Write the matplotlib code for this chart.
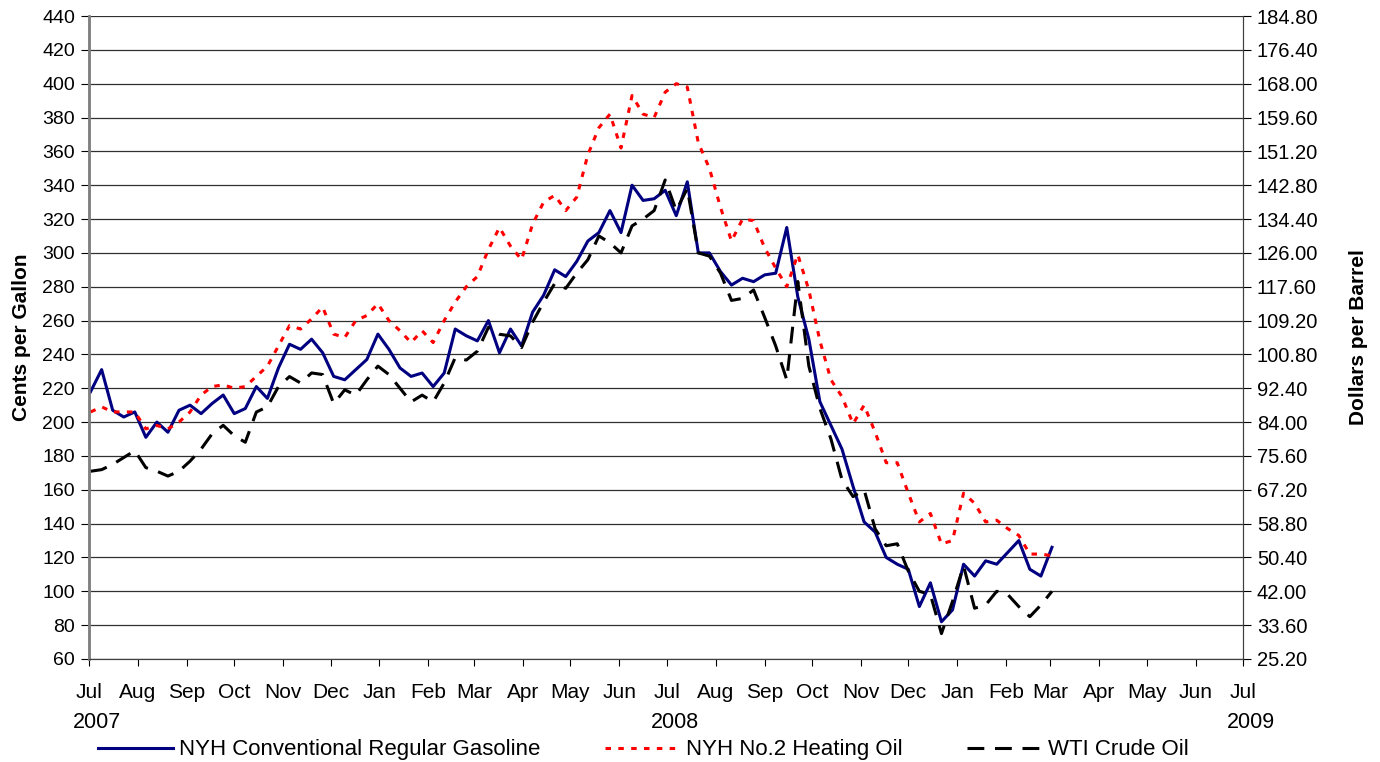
import matplotlib
matplotlib.use('Agg')
import matplotlib.pyplot as plt
import matplotlib.dates as mdates
import numpy as np
import pandas as pd

plt.rcParams['font.family'] = ['Liberation Sans', 'DejaVu Sans']
plt.rcParams['font.size'] = 14

## -------- DATA (weekly) -------- ##

dates = pd.date_range('2007-07-02', periods=88, freq='7D')

# NYH conventional regular gasoline, cents per gallon
gasoline = [218, 231, 207, 203, 206, 191, 200, 194, 207, 210, 205, 211, 216, 205, 208, 221, 214, 232,
            246, 243, 249, 241, 227, 225, 231, 237, 252, 243, 232, 227, 229, 221, 229, 255, 251,
            248, 260, 241, 255, 245, 265, 275, 290, 286, 295, 307, 312, 325, 312, 340, 331, 332, 337,
            322, 342, 300, 300, 289, 281, 285, 283, 287, 288, 315, 274, 249, 212, 198, 184, 162,
            141, 135, 120, 116, 113, 91, 105, 82, 89, 116, 109, 118, 116, 123, 130, 113, 109, 126]

# NYH No.2 heating oil, cents per gallon
heating_oil = [206, 209, 206, 206, 206, 196, 198, 196, 200, 206, 216, 221, 222, 220, 221, 227, 233, 245,
               257, 255, 261, 268, 252, 250, 260, 263, 270, 260, 254, 247, 254, 247, 260, 271, 280,
               286, 302, 315, 304, 296, 317, 330, 334, 325, 333, 358, 374, 382, 362, 393, 382, 380, 395,
               400, 398, 365, 350, 327, 307, 320, 319, 303, 291, 280, 299, 278, 248, 225, 215, 199,
               210, 194, 176, 176, 158, 141, 146, 128, 130, 158, 152, 141, 142, 137, 133, 122, 122, 121]

# WTI crude oil, dollars per barrel (right axis)
wti = [71.8, 72.2, 73.5, 75.2, 76.9, 72.7, 71.8, 70.6, 71.8, 74.3, 77.3, 81.1, 83.2, 80.6, 79.0, 86.5, 87.8, 92.8,
       95.3, 93.7, 96.2, 95.8, 88.6, 92.0, 90.7, 94.5, 97.9, 95.8, 92.4, 89.0, 90.7, 89.0, 93.7, 100.0, 99.4,
       101.6, 107.5, 105.8, 105.4, 102.5, 108.8, 113.8, 118.4, 117.2, 121.0, 124.3, 130.2, 128.5, 126.0, 132.7,
       134.4, 136.5, 144.1,
       136.5, 142.0, 126.0, 125.2, 121.0, 114.2, 114.7, 116.8, 110.0, 102.9, 94.5, 118.9, 97.9, 87.4, 79.8, 69.7, 65.5,
       67.2, 57.5, 53.3, 53.8, 47.0, 42.0, 41.2, 31.5, 39.5, 48.3, 37.8, 38.6, 42.0, 41.2, 38.2, 35.7, 38.6, 42.0]

left_ticks = list(range(60, 441, 20))
right_ticks = [v * 0.42 for v in left_ticks]   # 42 gallons per barrel
years = ['2007', '2008', '2009']

## -------- PLOT -------- ##

fig = plt.figure(figsize=(13.8, 7.62), dpi=100)
ax = fig.add_axes([0.0645, 0.1352, 0.8362, 0.8438])
ax2 = ax.twinx()

ax.plot(dates, gasoline, color='#000080', lw=2.2, label='NYH Conventional Regular Gasoline', zorder=3)
ax.plot(dates, heating_oil, color='#ff0000', lw=2.2, dashes=(1.8, 2.4),
        label='NYH No.2 Heating Oil', zorder=4)
ax2.plot(dates, wti, color='black', lw=2.2, dashes=(5.5, 3.5), label='WTI Crude Oil')

ax.set_ylim(60, 440)
ax.set_yticks(left_ticks)
ax2.set_ylim(right_ticks[0], right_ticks[-1])
ax2.set_yticks(right_ticks)
ax2.set_yticklabels(['%.2f' % v for v in right_ticks])

ax.set_xlim(pd.Timestamp('2007-07-01'), pd.Timestamp('2009-07-01'))
ax.xaxis.set_major_locator(mdates.MonthLocator())
ax.xaxis.set_major_formatter(mdates.DateFormatter('%b'))
ax.tick_params(axis='x', pad=12, length=5, direction='out', labelsize=15)
ax.tick_params(axis='y', length=6, direction='out', pad=4)
ax2.tick_params(axis='y', length=6, direction='out', pad=4, labelsize=14.5)

ax.grid(axis='y', color='#303030', lw=0.9)
ax.set_axisbelow(True)
for a in (ax, ax2):
    a.spines['top'].set_visible(False)
    a.spines['left'].set_color('#808080')
    a.spines['left'].set_linewidth(1.8)
    a.spines['right'].set_color('#404040')
    a.spines['bottom'].set_color('#404040')

for yr in years:
    ax.text(pd.Timestamp(yr + '-07-01') + pd.Timedelta(days=5), -0.083, yr,
            transform=ax.get_xaxis_transform(), ha='center', va='top', fontsize=15.5)

ax.set_ylabel('Cents per Gallon', fontweight='bold', labelpad=8, fontsize=15)
ax2.set_ylabel('Dollars per Barrel', fontweight='bold', labelpad=22, fontsize=15)

h1, l1 = ax.get_legend_handles_labels()
h2, l2 = ax2.get_legend_handles_labels()
fig.legend(h1 + h2, l1 + l2, loc='lower center', bbox_to_anchor=(0.466, -0.024), ncol=3,
           frameon=False, fontsize=16, handlelength=3.4, columnspacing=2.9, handletextpad=0.25)

plt.savefig('out.png', dpi=100)
